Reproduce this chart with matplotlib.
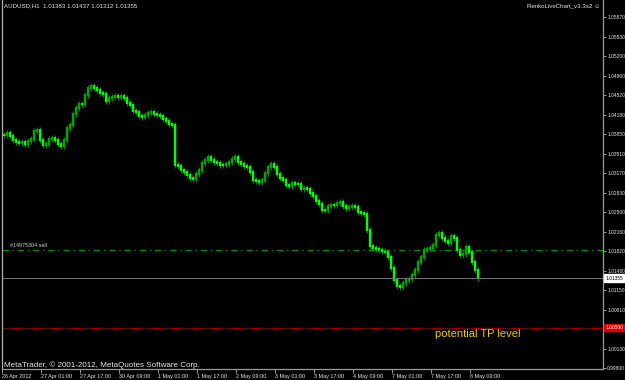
import matplotlib
matplotlib.use('Agg')
import matplotlib.pyplot as plt
import numpy as np

plt.rcParams['font.family'] = ['Liberation Sans', 'DejaVu Sans']

# AUDUSD H1 closes (left to right)
closes = [
    1.03831, 1.03866, 1.03814, 1.03744, 1.03710, 1.03693, 1.03710, 1.03675, 1.03727, 1.03762,
    1.03900, 1.03917, 1.03744, 1.03658, 1.03675, 1.03762, 1.03779, 1.03744, 1.03675, 1.03641,
    1.03744, 1.03952, 1.04004, 1.04194, 1.04298, 1.04367, 1.04367, 1.04523, 1.04644, 1.04679,
    1.04644, 1.04609, 1.04558, 1.04540, 1.04419, 1.04471, 1.04488, 1.04506, 1.04488, 1.04506,
    1.04471, 1.04385, 1.04350, 1.04246, 1.04229, 1.04160, 1.04142, 1.04177, 1.04212, 1.04229,
    1.04194, 1.04177, 1.04160, 1.04108, 1.04073, 1.04021, 1.04004, 1.03312, 1.03295, 1.03225,
    1.03191, 1.03139, 1.03087, 1.03070, 1.03156, 1.03225, 1.03347, 1.03398, 1.03450, 1.03398,
    1.03364, 1.03347, 1.03312, 1.03312, 1.03329, 1.03364, 1.03416, 1.03450, 1.03364, 1.03329,
    1.03295, 1.03277, 1.03191, 1.03052, 1.03035, 1.03018, 1.03052, 1.03174, 1.03277, 1.03329,
    1.03277, 1.03156, 1.03087, 1.03052, 1.02966, 1.02949, 1.03001, 1.02983, 1.02983, 1.02897,
    1.02914, 1.02897, 1.02828, 1.02776, 1.02689, 1.02637, 1.02533, 1.02533, 1.02603, 1.02620,
    1.02620, 1.02655, 1.02672, 1.02603, 1.02568, 1.02585, 1.02603, 1.02585, 1.02499, 1.02482,
    1.02464, 1.02187, 1.01911, 1.01876, 1.01859, 1.01841, 1.01824, 1.01807, 1.01720, 1.01530,
    1.01322, 1.01219, 1.01201, 1.01271, 1.01322, 1.01340, 1.01409, 1.01495, 1.01634, 1.01720,
    1.01841, 1.01859, 1.01876, 1.01928, 1.02101, 1.02136, 1.02049, 1.01997, 1.01963, 1.02084,
    1.02049, 1.01841, 1.01755, 1.01772, 1.01893, 1.01807, 1.01634, 1.01495, 1.01355,
]

y_ticks = [1.05870, 1.05530, 1.05200, 1.04860, 1.04520, 1.04180, 1.03850, 1.03510, 1.03170,
           1.02830, 1.02500, 1.02160, 1.01820, 1.01480, 1.01150, 1.00810, 1.00130, 0.99800]
x_labels = ['26 Apr 2012', '27 Apr 01:00', '27 Apr 17:00', '30 Apr 09:00', '1 May 01:00',
            '1 May 17:00', '2 May 09:00', '3 May 01:00', '3 May 17:00', '4 May 09:00',
            '7 May 01:00', '7 May 17:00', '8 May 09:00']

sell_level = 1.01841
bid_level = 1.01355
tp_level = 1.00500
header = 'AUDUSD,H1  1.01383 1.01437 1.01312 1.01355'

BG = '#000000'
FG = '#e8e8e8'
AXC = '#9a9a9a'
FS = 3.9
FSY = 3.5

fig = plt.figure(figsize=(6.25, 3.8), dpi=100, facecolor=BG)
ax = fig.add_axes([2/625, 11/380, 601/625, 369/380], facecolor=BG)

# candles: body from previous close to close
opens = [closes[0]] + closes[:-1]
wick = 0.00045
for i, (o, c) in enumerate(zip(opens, closes)):
    lo, hi = min(o, c), max(o, c)
    col = '#00a800' if c > o else '#00ff00'
    ax.vlines(i, lo - wick, hi + wick, color='#008800', lw=0.8)
    ax.vlines(i, lo - 0.0001, hi + 0.0001, color=col, lw=1.7)

ax.axhline(sell_level, color='#009000', lw=0.9, ls=(0, (5, 3, 1.2, 3)))
ax.axhline(bid_level, color='#6c7480', lw=0.7)
ax.axhline(tp_level, color='#c00000', lw=1.0, ls=(0, (1, 0.6)))

ax.set_xlim(-0.7, 199.67)
ax.set_ylim(0.997827, 1.061664)

ax.spines['top'].set_visible(False)
ax.spines['left'].set_color('#b0b0b0')
ax.spines['right'].set_color(AXC)
ax.spines['bottom'].set_color(AXC)
for s in ['left', 'right', 'bottom']:
    ax.spines[s].set_linewidth(0.9)

ax.yaxis.tick_right()
ax.set_yticks(y_ticks)
ax.set_yticklabels([f'{v:.5f}' for v in y_ticks])
ax.tick_params(axis='y', colors=AXC, labelcolor=FG, labelsize=FSY, length=2.2, width=0.7, pad=0.8)

xt = np.concatenate([[-0.7], 12.4 + 13 * np.arange(len(x_labels) - 1)])
ax.set_xticks(xt)
ax.set_xticklabels(x_labels, ha='left')
ax.tick_params(axis='x', colors=AXC, labelcolor=FG, labelsize=FS, length=3, width=0.7, pad=0.8)

# right side price boxes
ax.annotate(f'{bid_level:.5f}', xy=(1.0, bid_level), xycoords=('axes fraction', 'data'),
            xytext=(1.6, 0), textcoords='offset points', color='black', fontsize=FSY,
            ha='left', va='center',
            bbox=dict(boxstyle='square,pad=0.25', fc='white', ec='white'))
ax.annotate(f'{tp_level:.5f}', xy=(1.0, tp_level), xycoords=('axes fraction', 'data'),
            xytext=(1.6, 0), textcoords='offset points', color='white', fontsize=FSY,
            ha='left', va='center',
            bbox=dict(boxstyle='square,pad=0.25', fc='#e00000', ec='#e00000'))

ax.text(2, sell_level + 0.0004, '#14975304 sell', color='#cfcfcf', fontsize=FS,
        ha='left', va='bottom')
ax.text(143.5, tp_level - 0.0002, 'potential TP level', color='#f2c600', fontsize=8,
        ha='left', va='top')

fig.text(4/625, 1 - 6/380, header, color=FG, fontsize=4.4, ha='left', va='center')
fig.text(600/625, 1 - 6/380, 'RenkoLiveChart_v3.3s2 \u263a', color=FG, fontsize=4.4,
         ha='right', va='center')
fig.text(4/625, 1 - 365/380, 'MetaTrader, \u00a9 2001-2012, MetaQuotes Software Corp.',
         color=FG, fontsize=5.8, ha='left', va='center')

fig.savefig('out.png', dpi=100, facecolor=BG)
